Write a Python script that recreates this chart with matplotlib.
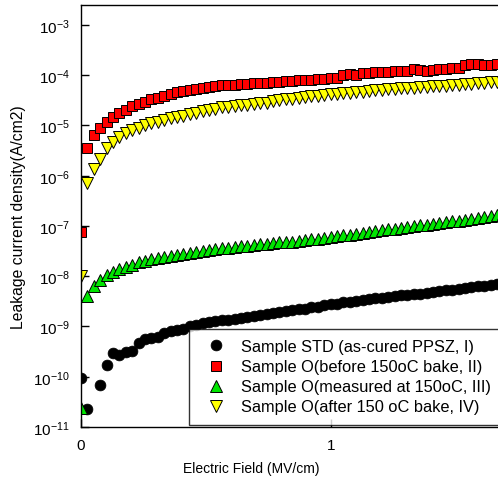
import numpy as np
import matplotlib
matplotlib.use('Agg')
import matplotlib.pyplot as plt

plt.rcParams['font.family'] = ['Liberation Sans', 'DejaVu Sans']
plt.rcParams['mathtext.fontset'] = 'custom'
plt.rcParams['mathtext.rm'] = 'Liberation Sans'
plt.rcParams['mathtext.it'] = 'Liberation Sans:italic'

# electric field step between measured points (MV/cm)
field_step = 0.0256

# Sample STD (as-cured PPSZ, I); point 2 is missing in the plot
std_I = [9.6e-11, 2.33e-11, np.nan, 6.9e-11, 1.69e-10, 2.94e-10, 2.68e-10, 3.12e-10, 3.27e-10, 4.65e-10,
         5.75e-10, 5.83e-10, 6.3e-10, 7.3e-10, 8.15e-10, 8.7e-10, 9.1e-10, 1.03e-9, 1.09e-9, 1.16e-9,
         1.23e-9, 1.27e-9, 1.33e-9, 1.37e-9, 1.43e-9, 1.51e-9, 1.53e-9, 1.61e-9, 1.71e-9, 1.76e-9,
         1.85e-9, 1.92e-9, 2.01e-9, 2.09e-9, 2.2e-9, 2.28e-9, 2.39e-9, 2.47e-9, 2.62e-9, 2.77e-9,
         2.86e-9, 3.01e-9, 3.11e-9, 3.24e-9, 3.36e-9, 3.52e-9, 3.61e-9, 3.75e-9, 3.86e-9, 4.0e-9,
         4.15e-9, 4.27e-9, 4.39e-9, 4.53e-9, 4.7e-9, 4.9e-9, 5.04e-9, 5.22e-9, 5.44e-9, 5.61e-9,
         5.82e-9, 6.04e-9, 6.26e-9, 6.47e-9, 6.68e-9, 6.93e-9, 7.19e-9]

# Sample O (before 150oC bake, II)
before_II = [7.6e-8, 3.55e-6, 6.5e-6, 8.9e-6, 1.17e-5, 1.45e-5, 1.74e-5, 2.04e-5, 2.4e-5, 2.7e-5,
             3.0e-5, 3.3e-5, 3.6e-5, 3.9e-5, 4.2e-5, 4.55e-5, 4.8e-5, 5.1e-5, 5.4e-5, 5.6e-5,
             5.9e-5, 6.2e-5, 6.3e-5, 6.4e-5, 6.5e-5, 6.6e-5, 6.75e-5, 6.9e-5, 7.0e-5, 7.1e-5,
             7.3e-5, 7.4e-5, 7.6e-5, 7.8e-5, 7.95e-5, 8.05e-5, 8.2e-5, 8.4e-5, 8.6e-5, 8.7e-5,
             8.9e-5, 9.9e-5, 1.05e-4, 1.03e-4, 1.12e-4, 1.13e-4, 1.15e-4, 1.16e-4, 1.17e-4, 1.19e-4,
             1.2e-4, 1.21e-4, 1.32e-4, 1.3e-4, 1.19e-4, 1.26e-4, 1.35e-4, 1.36e-4, 1.38e-4, 1.39e-4,
             1.62e-4, 1.64e-4, 1.66e-4, 1.63e-4, 1.58e-4, 1.66e-4, 1.69e-4]

# Sample O (measured at 150oC, III)
at150_III = [2.36e-11, 4.07e-9, 6.4e-9, 8.4e-9, 1.05e-8, 1.24e-8, 1.38e-8, 1.56e-8, 1.71e-8, 1.9e-8,
             2.05e-8, 2.18e-8, 2.31e-8, 2.47e-8, 2.58e-8, 2.7e-8, 2.83e-8, 2.96e-8, 3.05e-8, 3.19e-8,
             3.34e-8, 3.45e-8, 3.61e-8, 3.66e-8, 3.78e-8, 3.92e-8, 4.05e-8, 4.18e-8, 4.34e-8, 4.48e-8,
             4.62e-8, 4.75e-8, 4.8e-8, 4.91e-8, 5.09e-8, 5.26e-8, 5.45e-8, 5.62e-8, 5.81e-8, 6.03e-8,
             6.25e-8, 6.49e-8, 6.76e-8, 7.05e-8, 7.35e-8, 7.66e-8, 7.94e-8, 8.24e-8, 8.55e-8, 8.87e-8,
             9.19e-8, 9.53e-8, 9.89e-8, 1.03e-7, 1.06e-7, 1.1e-7, 1.15e-7, 1.19e-7, 1.23e-7, 1.28e-7,
             1.33e-7, 1.39e-7, 1.45e-7, 1.51e-7, 1.57e-7, 1.64e-7, 1.7e-7]

# Sample O (after 150 oC bake, IV)
after_IV = [1.0e-8, 7.3e-7, 1.35e-6, 2.2e-6, 3.55e-6, 4.7e-6, 5.85e-6, 7.0e-6, 8.1e-6, 9.1e-6,
            1.0e-5, 1.11e-5, 1.2e-5, 1.29e-5, 1.38e-5, 1.48e-5, 1.58e-5, 1.67e-5, 1.78e-5, 1.9e-5,
            2.0e-5, 2.17e-5, 2.31e-5, 2.37e-5, 2.45e-5, 2.53e-5, 2.61e-5, 2.7e-5, 2.77e-5, 2.86e-5,
            3.04e-5, 3.18e-5, 3.33e-5, 3.44e-5, 3.56e-5, 3.65e-5, 3.82e-5, 3.94e-5, 4.06e-5, 4.19e-5,
            4.32e-5, 4.45e-5, 4.53e-5, 4.63e-5, 4.74e-5, 4.96e-5, 5.03e-5, 5.14e-5, 5.26e-5, 5.36e-5,
            5.46e-5, 5.58e-5, 5.69e-5, 5.79e-5, 5.9e-5, 6.01e-5, 6.12e-5, 6.24e-5, 6.35e-5, 6.47e-5,
            6.62e-5, 6.74e-5, 6.9e-5, 7.06e-5, 7.19e-5, 7.36e-5, 7.5e-5]

labels = ['Sample STD (as-cured PPSZ, I)',
          'Sample O(before 150oC bake, II)',
          'Sample O(measured at 150oC, III)',
          'Sample O(after 150 oC bake, IV)']

field = np.arange(len(std_I)) * field_step

W, H = 498, 489
fig = plt.figure(figsize=(W / 100, H / 100), dpi=100)
ax = fig.add_axes([81 / W, 61 / H, 500 / W, 422 / H])

ax.plot(field, std_I, 'o', color='black', ms=7.8, mec='black', mew=0.5, label=labels[0])
ax.plot(field, before_II, 's', color='#ff0000', ms=7, mec='black', mew=0.7, label=labels[1])
ax.plot(field, at150_III, '^', color='#00e600', ms=8, mec='black', mew=0.7, label=labels[2])
ax.plot(field, after_IV, 'v', color='#ffff00', ms=8, mec='black', mew=0.7, label=labels[3])

ax.set_yscale('log')
ax.set_xlim(0, 2)
ax.set_ylim(1e-11, 2.5e-3)
ax.set_xticks([0, 1])
ax.set_xticklabels(['0', '1'])
ax.set_yticks([10.0 ** k for k in range(-11, -2)])
ax.yaxis.set_minor_locator(matplotlib.ticker.NullLocator())
ax.tick_params(direction='in', length=6, width=1, labelsize=11, pad=8)
for s in ax.spines.values():
  s.set_linewidth(1)

ax.set_xlabel('Electric Field (MV/cm)', fontsize=10)
ax.xaxis.set_label_coords(170 / 500, -34 / 422)
ax.set_ylabel('Leakage current density(A/cm2)', fontsize=11.3)
ax.yaxis.set_label_coords(-55 / 500, 0.5)

leg = ax.legend(loc='upper left', bbox_to_anchor=(189 / W, 1 - 330 / H), bbox_transform=fig.transFigure,
                fontsize=11.8, frameon=True, fancybox=False, borderpad=0.62, labelspacing=0.31,
                handletextpad=0.55, handlelength=2.0, borderaxespad=0)
leg.get_frame().set_edgecolor('black')
leg.get_frame().set_linewidth(1)

plt.savefig('out.png', dpi=100)
